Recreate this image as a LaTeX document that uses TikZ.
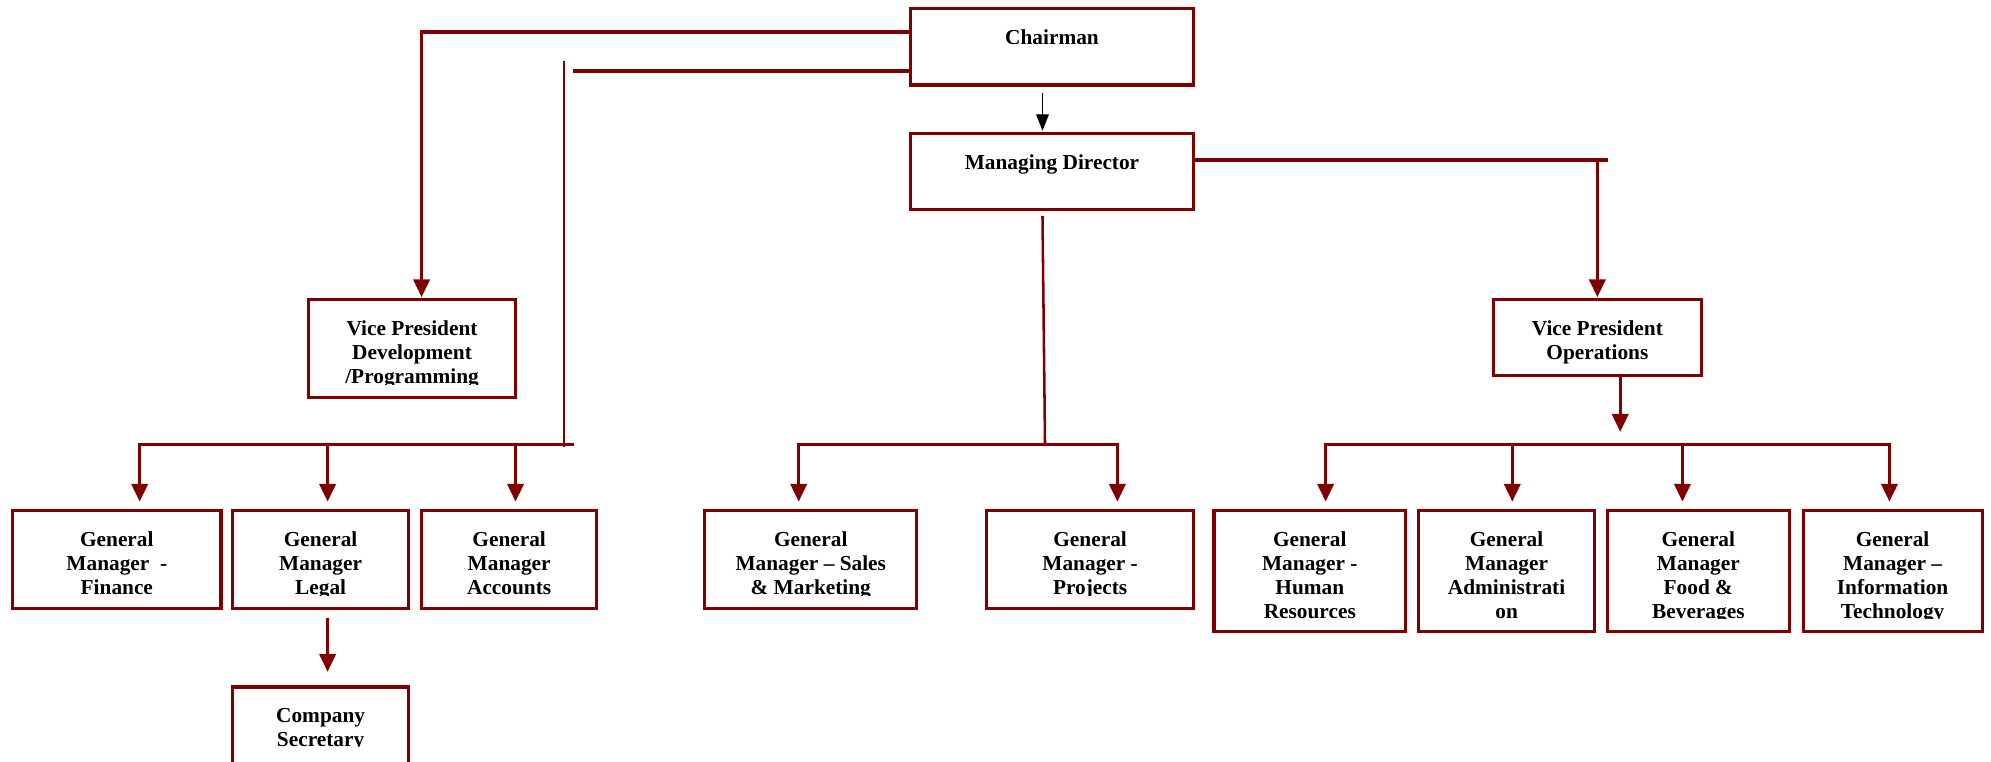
\documentclass[tikz,border=0pt]{standalone}
\usepackage{fontspec}
\setmainfont{Liberation Serif}
\usetikzlibrary{arrows.meta}
\definecolor{mr}{RGB}{128,0,0}
\tikzset{clipin/.initial=10pt}
\begin{document}
\begin{tikzpicture}[x=1pt,y=-1pt,
  box/.style n args={3}{draw=mr, line width=2.5pt, fill=white, inner sep=0pt, outer sep=0pt,
    anchor=north west, minimum width=#1pt, minimum height=#2pt,
    path picture={
      \clip ([yshift=\pgfkeysvalueof{/tikz/clipin}]path picture bounding box.south west)
        rectangle (path picture bounding box.north east);
      \node[anchor=north, inner sep=0pt, align=center, draw=none, fill=none,
        minimum width=0pt, minimum height=0pt,
        font=\bfseries\fontsize{16.8}{19}\selectfont]
        at ([yshift=-16.5pt]path picture bounding box.north) {#3};}},
  thk/.style={draw=mr, line width=3pt},
  thn/.style={draw=mr, line width=2pt},
  bar/.style={draw=mr, line width=2.5pt, line cap=rect},
  arr/.style={draw=mr, line width=2pt, -{Triangle[length=14pt,width=13pt]}},
  blk/.style={draw=black, line width=1pt, -{Triangle[length=13pt,width=10pt]}}]
\useasboundingbox (0,0) rectangle (1568,600);

% boxes
\node[box={223}{60}{Chairman}] (ch) at (717,7) {};
\node[box={223}{60}{Managing Director}] (md) at (717,105) {};
\node[box={163}{77}{Vice President\\Development\\/Programming}] (vpd) at (243,236) {};
\node[box={164}{60}{Vice President\\Operations}] (vpo) at (1176,236) {};
\node[box={164}{77}{General\\Manager\ \ -\\Finance}] (fin) at (10,402) {};
\node[box={139}{77}{General\\Manager\\Legal}] (leg) at (183,402) {};
\node[box={138}{77}{General\\Manager\\Accounts}] (acc) at (332,402) {};
\node[box={139}{62}{Company\\Secretary}, clipin=15pt] (sec) at (183,541) {};
\node[box={167}{77}{General\\Manager – Sales\\\& Marketing}] (sal) at (555,402) {};
\node[box={163}{77}{General\\Manager -\\Projects}] (prj) at (777,402) {};
\node[box={151}{95}{General\\Manager -\\Human\\Resources}] (hr) at (956,402) {};
\node[box={139}{95}{General\\Manager\\Administrati\\on}] (adm) at (1117,402) {};
\node[box={143}{95}{General\\Manager\\Food \&\\Beverages}] (fb) at (1266,402) {};
\node[box={141}{95}{General\\Manager –\\Information\\Technology}] (it) at (1420,402) {};

% chairman to MD
\draw[blk, shorten >=2pt] ([xshift=-7.5pt,yshift=-6pt]ch.south) -- ([xshift=-7.5pt]md.north);

% chairman left branches
\coordinate (a1) at (332,25);
\draw[thk] ([yshift=12pt]ch.west) -- (a1);
\draw[arr, shorten >=2pt] ([yshift=1.5pt]a1) -- (a1 |- vpd.north);
\coordinate (a2) at (451,56);
\draw[thk] ([yshift=-19pt]ch.west) -- (a2);
\coordinate (a3) at (444,48);
\coordinate (a4) at (444,352);
\draw[thn] (a3) -- (a4);
\coordinate (b1) at (110,350);
\coordinate (b2) at (451,350);
\coordinate (b3) at (258,350);
\coordinate (b4) at (406,350);
\draw[bar] (b1) -- (b2);
\draw[arr, shorten >=7pt] (b1) -- (b1 |- fin.north);
\draw[arr, shorten >=7pt] (b3) -- (b3 |- leg.north);
\draw[arr, shorten >=7pt] (b4) -- (b4 |- acc.north);
\draw[arr, shorten >=12pt] ([xshift=5.5pt,yshift=-8pt]leg.south) -- ([xshift=5.5pt]sec.north);

% MD down
\coordinate (m1) at (823,350);
\draw[thn] ([xshift=-7.5pt,yshift=-5pt]md.south) -- (m1);
\coordinate (m2) at (629,350);
\coordinate (m3) at (880,350);
\draw[bar] (m2) -- (m3);
\draw[arr, shorten >=7pt] (m2) -- (m2 |- sal.north);
\draw[arr, shorten >=7pt] (m3) -- (m3 |- prj.north);

% MD right
\coordinate (r1) at (1266,126);
\coordinate (r2) at (1258,126);
\draw[thk] ([yshift=9pt]md.east) -- (r1);
\draw[arr, shorten >=2pt] ([yshift=1.5pt]r2) -- (r2 |- vpo.north);
\coordinate (r3) at (1276,340);
\draw[arr] ([xshift=18pt]vpo.south) -- (r3);
\coordinate (o1) at (1044,350);
\coordinate (o2) at (1191,350);
\coordinate (o3) at (1325,350);
\coordinate (o4) at (1488,350);
\draw[bar] (o1) -- (o4);
\draw[arr, shorten >=7pt] (o1) -- (o1 |- hr.north);
\draw[arr, shorten >=7pt] (o2) -- (o2 |- adm.north);
\draw[arr, shorten >=7pt] (o3) -- (o3 |- fb.north);
\draw[arr, shorten >=7pt] (o4) -- (o4 |- it.north);
\end{tikzpicture}
\end{document}
